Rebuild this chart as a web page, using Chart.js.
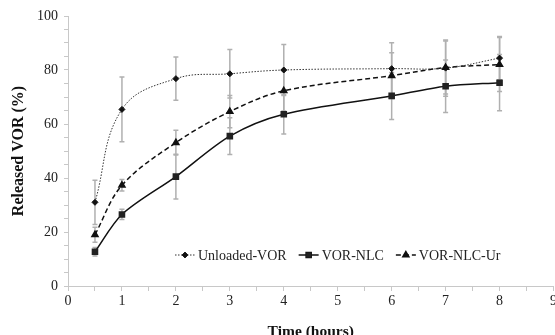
<!DOCTYPE html>
<html>
<head>
<meta charset="utf-8">
<script src="https://cdn.jsdelivr.net/npm/chart.js@4"></script>
<style>
  html, body { margin: 0; padding: 0; background: #fff; overflow: hidden; width: 555px; height: 335px; }
  #wrap { width: 559px; height: 335px; }
</style>
</head>
<body>
<div id="wrap"><canvas id="myChart"></canvas></div>
<script>
  const times = [0.5, 1, 2, 3, 4, 6, 7, 8];
  const unloaded = [31, 65.4, 76.8, 78.6, 80.0, 80.5, 80.7, 84.4];
  const unloadedErr = [8.2, 12, 8, 9, 9.4, 9.6, 10.4, 8];
  const nlc = [12.7, 26.5, 40.5, 55.5, 63.6, 70.4, 74.0, 75.3];
  const nlcErr = [1.6, 1.9, 8.3, 6.8, 7.3, 8.7, 9.7, 10.4];
  const nlcUr = [19, 37.3, 53.1, 64.6, 72.3, 77.9, 80.9, 82];
  const nlcUrErr = [2.8, 2.1, 4.6, 6, 7.5, 8.5, 9.8, 10];
  const labels = ['Unloaded-VOR', 'VOR-NLC', 'VOR-NLC-Ur'];

  const serif = '"Liberation Serif", "Times New Roman", serif';
  const axisGray = '#c8c8c8';

  function pts(ys) {
    return times.map((t, i) => ({ x: t, y: ys[i] }));
  }

  // gray error bars, drawn under the lines
  const errorBars = {
    id: 'errorBars',
    beforeDatasetsDraw(chart) {
      const c = chart.ctx;
      const xs = chart.scales.x, ys = chart.scales.y;
      c.save();
      c.strokeStyle = '#b0b0b0';
      c.lineWidth = 1.5;
      chart.data.datasets.forEach(ds => {
        ds.data.forEach((p, i) => {
          const e = ds.errors[i];
          const px = xs.getPixelForValue(p.x);
          const top = ys.getPixelForValue(p.y + e);
          const bot = ys.getPixelForValue(p.y - e);
          c.beginPath();
          c.moveTo(px, top); c.lineTo(px, bot);
          c.moveTo(px - 2.5, top); c.lineTo(px + 2.5, top);
          c.moveTo(px - 2.5, bot); c.lineTo(px + 2.5, bot);
          c.stroke();
        });
      });
      c.restore();
    }
  };

  // legend inside the plot: line sample + marker + label
  const innerLegend = {
    id: 'innerLegend',
    afterDraw(chart) {
      const c = chart.ctx;
      const area = chart.chartArea;
      let x = area.left + 107;
      const y = area.bottom - 31;
      c.save();
      c.font = '14px ' + serif;
      c.textBaseline = 'middle';
      chart.data.datasets.forEach(ds => {
        c.strokeStyle = ds.borderColor;
        c.lineWidth = ds.borderWidth;
        c.setLineDash(ds.borderDash || []);
        c.beginPath();
        c.moveTo(x, y); c.lineTo(x + 20, y);
        c.stroke();
        c.setLineDash([]);
        Chart.helpers.drawPoint(c, {
          pointStyle: ds.pointStyle, radius: ds.pointRadius, rotation: 0, borderWidth: 1
        }, x + 10, y);
        c.fillStyle = ds.pointBackgroundColor;
        c.fill();
        c.fillStyle = '#222';
        c.fillText(ds.label, x + 23, y + 1);
        x += 23 + c.measureText(ds.label).width + 12;
      });
      c.restore();
    }
  };

  new Chart(document.getElementById('myChart'), {
    type: 'line',
    data: {
      datasets: [{
        label: labels[0],
        data: pts(unloaded),
        errors: unloadedErr,
        borderColor: '#333',
        borderWidth: 1,
        borderDash: [1.5, 1.5],
        pointStyle: 'rectRot',
        pointRadius: 3,
        pointBackgroundColor: '#111',
        pointBorderColor: '#111',
        tension: 0.4
      }, {
        label: labels[1],
        data: pts(nlc),
        errors: nlcErr,
        borderColor: '#111',
        borderWidth: 1.5,
        pointStyle: 'rect',
        pointRadius: 3.6,
        pointBackgroundColor: '#222',
        pointBorderColor: '#222',
        tension: 0.3
      }, {
        label: labels[2],
        data: pts(nlcUr),
        errors: nlcUrErr,
        borderColor: '#111',
        borderWidth: 1.5,
        borderDash: [5, 3],
        pointStyle: 'triangle',
        pointRadius: 3.5,
        pointBackgroundColor: '#111',
        pointBorderColor: '#111',
        tension: 0.35
      }]
    },
    options: {
      responsive: true,
      maintainAspectRatio: false,
      animation: false,
      layout: { padding: { top: 16, right: 0, left: 0, bottom: 0 } },
      plugins: { legend: { display: false }, tooltip: { enabled: false } },
      scales: {
        x: {
          type: 'linear',
          min: 0, max: 9,
          afterFit(scale) { scale.height = 49; },
          ticks: {
            stepSize: 0.5,
            autoSkip: false,
            maxRotation: 0,
            color: '#222',
            font: { family: serif, size: 14 },
            padding: 2,
            callback: v => (v % 1 === 0 ? v : '')
          },
          grid: { drawOnChartArea: false, color: axisGray, tickLength: 5 },
          border: { color: axisGray, width: 1 },
          title: {
            display: true, text: 'Time (hours)', color: '#111',
            font: { family: serif, size: 15.5, weight: 'bold' },
            padding: { top: 6, bottom: -6 }
          }
        },
        y: {
          min: 0, max: 100,
          afterFit(scale) { scale.width = 68; },
          ticks: {
            stepSize: 5,
            autoSkip: false,
            color: '#222',
            font: { family: serif, size: 14 },
            padding: 6,
            callback: v => (v % 20 === 0 ? v : '')
          },
          grid: { drawOnChartArea: false, color: axisGray, tickLength: 4 },
          border: { color: axisGray, width: 1 },
          title: {
            display: true, text: 'Released VOR (%)', color: '#111',
            font: { family: serif, size: 16, weight: 'bold' },
            padding: { top: 9, bottom: 0 }
          }
        }
      }
    },
    plugins: [errorBars, innerLegend]
  });
</script>
</body>
</html>
